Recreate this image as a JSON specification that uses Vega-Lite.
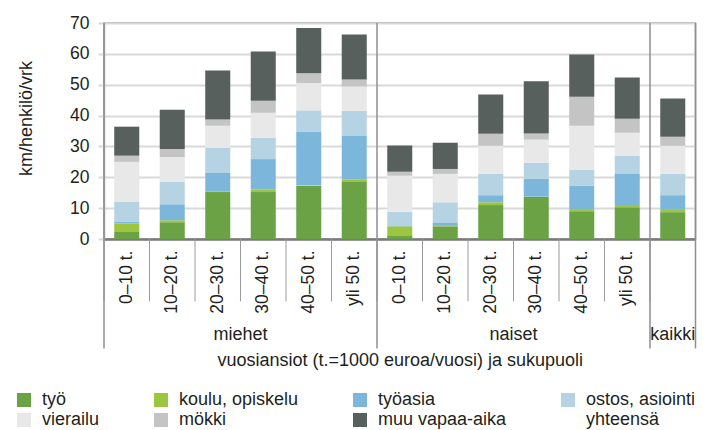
{
  "$schema": "https://vega.github.io/schema/vega-lite/v6.json",
  "width": 591.5,
  "height": 216,
  "autosize": {"type": "none"},
  "padding": {"left": 104, "top": 23, "right": 17.5, "bottom": 191},
  "background": "white",
  "config": {
    "font": "Liberation Sans",
    "view": {"stroke": "#8f8f8f", "strokeWidth": 1.5},
    "text": {"color": "#231f20"}
  },
  "resolve": {"axis": {"x": "independent", "y": "independent"}},
  "datasets": {
    "bars": [
      {"key": "m|0–10 t.", "cat": "työ", "v": 2.5}, {"key": "m|0–10 t.", "cat": "koulu, opiskelu", "v": 2.5}, {"key": "m|0–10 t.", "cat": "työasia", "v": 0.5}, {"key": "m|0–10 t.", "cat": "ostos, asiointi", "v": 6.5}, {"key": "m|0–10 t.", "cat": "vierailu", "v": 13.0}, {"key": "m|0–10 t.", "cat": "mökki", "v": 2.0}, {"key": "m|0–10 t.", "cat": "muu vapaa-aika", "v": 9.4},
      {"key": "m|10–20 t.", "cat": "työ", "v": 5.4}, {"key": "m|10–20 t.", "cat": "koulu, opiskelu", "v": 0.7}, {"key": "m|10–20 t.", "cat": "työasia", "v": 5.2}, {"key": "m|10–20 t.", "cat": "ostos, asiointi", "v": 7.2}, {"key": "m|10–20 t.", "cat": "vierailu", "v": 8.1}, {"key": "m|10–20 t.", "cat": "mökki", "v": 2.6}, {"key": "m|10–20 t.", "cat": "muu vapaa-aika", "v": 12.7},
      {"key": "m|20–30 t.", "cat": "työ", "v": 15.2}, {"key": "m|20–30 t.", "cat": "koulu, opiskelu", "v": 0.1}, {"key": "m|20–30 t.", "cat": "työasia", "v": 6.1}, {"key": "m|20–30 t.", "cat": "ostos, asiointi", "v": 8.1}, {"key": "m|20–30 t.", "cat": "vierailu", "v": 7.2}, {"key": "m|20–30 t.", "cat": "mökki", "v": 2.0}, {"key": "m|20–30 t.", "cat": "muu vapaa-aika", "v": 15.9},
      {"key": "m|30–40 t.", "cat": "työ", "v": 15.2}, {"key": "m|30–40 t.", "cat": "koulu, opiskelu", "v": 0.8}, {"key": "m|30–40 t.", "cat": "työasia", "v": 9.9}, {"key": "m|30–40 t.", "cat": "ostos, asiointi", "v": 6.9}, {"key": "m|30–40 t.", "cat": "vierailu", "v": 8.1}, {"key": "m|30–40 t.", "cat": "mökki", "v": 3.9}, {"key": "m|30–40 t.", "cat": "muu vapaa-aika", "v": 16.0},
      {"key": "m|40–50 t.", "cat": "työ", "v": 17.2}, {"key": "m|40–50 t.", "cat": "koulu, opiskelu", "v": 0.1}, {"key": "m|40–50 t.", "cat": "työasia", "v": 17.5}, {"key": "m|40–50 t.", "cat": "ostos, asiointi", "v": 6.9}, {"key": "m|40–50 t.", "cat": "vierailu", "v": 8.8}, {"key": "m|40–50 t.", "cat": "mökki", "v": 3.2}, {"key": "m|40–50 t.", "cat": "muu vapaa-aika", "v": 14.7},
      {"key": "m|yli 50 t.", "cat": "työ", "v": 18.5}, {"key": "m|yli 50 t.", "cat": "koulu, opiskelu", "v": 0.9}, {"key": "m|yli 50 t.", "cat": "työasia", "v": 14.0}, {"key": "m|yli 50 t.", "cat": "ostos, asiointi", "v": 8.2}, {"key": "m|yli 50 t.", "cat": "vierailu", "v": 7.8}, {"key": "m|yli 50 t.", "cat": "mökki", "v": 2.3}, {"key": "m|yli 50 t.", "cat": "muu vapaa-aika", "v": 14.6},
      {"key": "n|0–10 t.", "cat": "työ", "v": 1.2}, {"key": "n|0–10 t.", "cat": "koulu, opiskelu", "v": 2.9}, {"key": "n|0–10 t.", "cat": "työasia", "v": 0.1}, {"key": "n|0–10 t.", "cat": "ostos, asiointi", "v": 4.6}, {"key": "n|0–10 t.", "cat": "vierailu", "v": 11.7}, {"key": "n|0–10 t.", "cat": "mökki", "v": 1.3}, {"key": "n|0–10 t.", "cat": "muu vapaa-aika", "v": 8.5},
      {"key": "n|10–20 t.", "cat": "työ", "v": 4.1}, {"key": "n|10–20 t.", "cat": "koulu, opiskelu", "v": 0.4}, {"key": "n|10–20 t.", "cat": "työasia", "v": 0.9}, {"key": "n|10–20 t.", "cat": "ostos, asiointi", "v": 6.5}, {"key": "n|10–20 t.", "cat": "vierailu", "v": 9.2}, {"key": "n|10–20 t.", "cat": "mökki", "v": 1.6}, {"key": "n|10–20 t.", "cat": "muu vapaa-aika", "v": 8.5},
      {"key": "n|20–30 t.", "cat": "työ", "v": 11.0}, {"key": "n|20–30 t.", "cat": "koulu, opiskelu", "v": 0.9}, {"key": "n|20–30 t.", "cat": "työasia", "v": 2.3}, {"key": "n|20–30 t.", "cat": "ostos, asiointi", "v": 6.9}, {"key": "n|20–30 t.", "cat": "vierailu", "v": 9.1}, {"key": "n|20–30 t.", "cat": "mökki", "v": 3.9}, {"key": "n|20–30 t.", "cat": "muu vapaa-aika", "v": 12.7},
      {"key": "n|30–40 t.", "cat": "työ", "v": 13.6}, {"key": "n|30–40 t.", "cat": "koulu, opiskelu", "v": 0.1}, {"key": "n|30–40 t.", "cat": "työasia", "v": 5.8}, {"key": "n|30–40 t.", "cat": "ostos, asiointi", "v": 5.2}, {"key": "n|30–40 t.", "cat": "vierailu", "v": 7.5}, {"key": "n|30–40 t.", "cat": "mökki", "v": 2.0}, {"key": "n|30–40 t.", "cat": "muu vapaa-aika", "v": 16.9},
      {"key": "n|40–50 t.", "cat": "työ", "v": 9.0}, {"key": "n|40–50 t.", "cat": "koulu, opiskelu", "v": 0.7}, {"key": "n|40–50 t.", "cat": "työasia", "v": 7.5}, {"key": "n|40–50 t.", "cat": "ostos, asiointi", "v": 5.2}, {"key": "n|40–50 t.", "cat": "vierailu", "v": 14.3}, {"key": "n|40–50 t.", "cat": "mökki", "v": 9.4}, {"key": "n|40–50 t.", "cat": "muu vapaa-aika", "v": 13.7},
      {"key": "n|yli 50 t.", "cat": "työ", "v": 10.3}, {"key": "n|yli 50 t.", "cat": "koulu, opiskelu", "v": 0.7}, {"key": "n|yli 50 t.", "cat": "työasia", "v": 10.1}, {"key": "n|yli 50 t.", "cat": "ostos, asiointi", "v": 5.8}, {"key": "n|yli 50 t.", "cat": "vierailu", "v": 7.5}, {"key": "n|yli 50 t.", "cat": "mökki", "v": 4.6}, {"key": "n|yli 50 t.", "cat": "muu vapaa-aika", "v": 13.3},
      {"key": "k|", "cat": "työ", "v": 8.7}, {"key": "k|", "cat": "koulu, opiskelu", "v": 1.0}, {"key": "k|", "cat": "työasia", "v": 4.5}, {"key": "k|", "cat": "ostos, asiointi", "v": 6.9}, {"key": "k|", "cat": "vierailu", "v": 9.1}, {"key": "k|", "cat": "mökki", "v": 2.9}, {"key": "k|", "cat": "muu vapaa-aika", "v": 12.4}
    ],
    "cats": [
      {"cat": "työ", "rank": 1}, {"cat": "koulu, opiskelu", "rank": 2}, {"cat": "työasia", "rank": 3}, {"cat": "ostos, asiointi", "rank": 4},
      {"cat": "vierailu", "rank": 5}, {"cat": "mökki", "rank": 6}, {"cat": "muu vapaa-aika", "rank": 7}
    ],
    "keys": [
      {"key": "m|0–10 t."}, {"key": "m|10–20 t."}, {"key": "m|20–30 t."}, {"key": "m|30–40 t."}, {"key": "m|40–50 t."}, {"key": "m|yli 50 t."},
      {"key": "n|0–10 t."}, {"key": "n|10–20 t."}, {"key": "n|20–30 t."}, {"key": "n|30–40 t."}, {"key": "n|40–50 t."}, {"key": "n|yli 50 t."},
      {"key": "k|"}
    ],
    "groups": [
      {"group": "miehet", "start": "m|0–10 t.", "mid": "m|30–40 t."},
      {"group": "naiset", "start": "n|0–10 t.", "mid": "n|30–40 t."},
      {"group": "kaikki", "start": "k|", "mid": "k|"}
    ]
  },
  "layer": [
    {
      "data": {"name": "bars"},
      "transform": [{"lookup": "cat", "from": {"data": {"name": "cats"}, "key": "cat", "fields": ["rank"]}}],
      "mark": {"type": "bar", "width": {"band": 0.55}},
      "encoding": {
        "x": {
          "field": "key", "type": "nominal", "sort": null,
          "scale": {"paddingInner": 0, "paddingOuter": 0, "domain": ["m|0–10 t.", "m|10–20 t.", "m|20–30 t.", "m|30–40 t.", "m|40–50 t.", "m|yli 50 t.", "n|0–10 t.", "n|10–20 t.", "n|20–30 t.", "n|30–40 t.", "n|40–50 t.", "n|yli 50 t.", "k|"]},
          "axis": {
            "title": "vuosiansiot (t.=1000 euroa/vuosi) ja sukupuoli",
            "labelExpr": "split(datum.value, '|')[1]",
            "labelAngle": -90, "labelFontSize": 17.5, "labelPadding": 11, "labelColor": "#231f20",
            "ticks": false, "domainColor": "#7a7a7a", "domainWidth": 2.5,
            "titleFontSize": 18, "titleFontWeight": "normal", "titleColor": "#231f20", "titlePadding": 38
          }
        },
        "y": {
          "field": "v", "type": "quantitative", "stack": "zero",
          "scale": {"domain": [0, 70], "nice": false},
          "axis": {
            "title": "km/henkilö/vrk", "values": [0, 10, 20, 30, 40, 50, 60, 70],
            "gridColor": "#d9d9d9", "gridWidth": 2, "tickColor": "#d9d9d9", "tickWidth": 2, "tickSize": 6,
            "labelPadding": 9, "labelFontSize": 17.5, "labelColor": "#231f20",
            "domainColor": "#b0b0b0", "domainWidth": 1.5,
            "titleFontSize": 18, "titleFontWeight": "normal", "titleColor": "#231f20", "titlePadding": 34, "titleY": 95
          }
        },
        "order": {"field": "rank", "type": "quantitative", "sort": "ascending"},
        "color": {
          "field": "cat", "type": "nominal",
          "scale": {
            "domain": ["työ", "koulu, opiskelu", "työasia", "ostos, asiointi", "vierailu", "mökki", "muu vapaa-aika", "yhteensä"],
            "range": ["#6aa245", "#9bc63d", "#7cb7db", "#b6d3e3", "#e8e8e8", "#c4c4c4", "#58605e", "#ffffff"]
          },
          "legend": {
            "orient": "none", "legendX": -89, "legendY": 368, "direction": "horizontal", "columns": 4,
            "title": null, "symbolType": "square", "symbolSize": 196, "symbolStrokeWidth": 0,
            "labelFontSize": 18, "labelColor": "#231f20", "labelOffset": 9, "labelLimit": 300,
            "columnPadding": 52, "rowPadding": 2, "padding": 0
          }
        }
      }
    },
    {
      "data": {"name": "keys"},
      "mark": {"type": "rule", "color": "#9a9a9a", "strokeWidth": 1},
      "encoding": {
        "x": {"field": "key", "type": "nominal", "sort": null, "bandPosition": 0, "axis": null},
        "y": {"datum": 0, "type": "quantitative", "axis": null},
        "y2": {"datum": -20.2}
      }
    },
    {
      "data": {"name": "groups"},
      "mark": {"type": "rule", "color": "#8f8f8f", "strokeWidth": 1.5},
      "encoding": {
        "x": {"field": "start", "type": "nominal", "sort": null, "bandPosition": 0, "axis": null},
        "y": {"datum": 70, "type": "quantitative", "axis": null},
        "y2": {"datum": -35.5}
      }
    },
    {
      "data": {"name": "groups"},
      "transform": [{"filter": "datum.group == 'kaikki'"}],
      "mark": {"type": "rule", "color": "#8f8f8f", "strokeWidth": 1.5},
      "encoding": {
        "x": {"field": "start", "type": "nominal", "sort": null, "bandPosition": 1, "axis": null},
        "y": {"datum": 70, "type": "quantitative", "axis": null},
        "y2": {"datum": -35.5}
      }
    },
    {
      "data": {"name": "groups"},
      "transform": [{"filter": "datum.group != 'kaikki'"}],
      "mark": {"type": "text", "fontSize": 18, "baseline": "middle", "align": "center"},
      "encoding": {
        "x": {"field": "mid", "type": "nominal", "sort": null, "bandPosition": 0, "axis": null},
        "y": {"datum": -31, "type": "quantitative", "axis": null},
        "text": {"field": "group"}
      }
    },
    {
      "data": {"name": "groups"},
      "transform": [{"filter": "datum.group == 'kaikki'"}],
      "mark": {"type": "text", "fontSize": 18, "baseline": "middle", "align": "center"},
      "encoding": {
        "x": {"field": "mid", "type": "nominal", "sort": null, "bandPosition": 0.5, "axis": null},
        "y": {"datum": -31, "type": "quantitative", "axis": null},
        "text": {"field": "group"}
      }
    }
  ]
}
